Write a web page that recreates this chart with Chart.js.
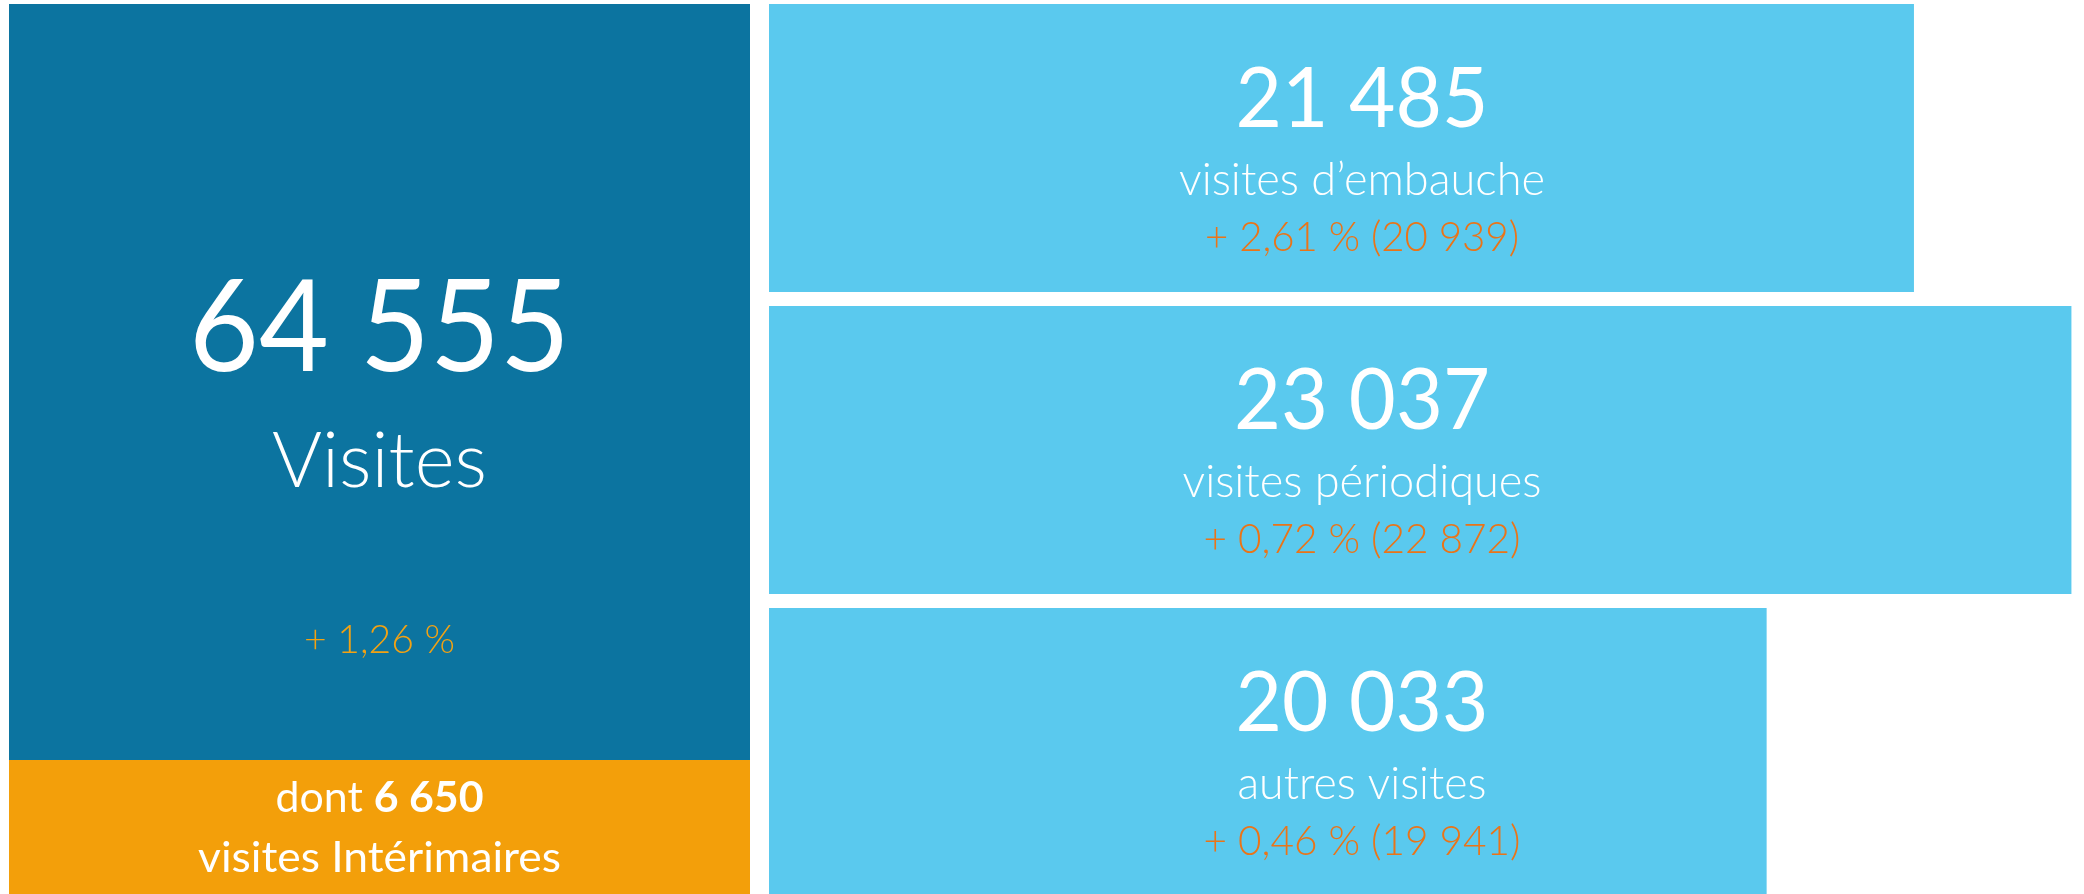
<!DOCTYPE html>
<html>
<head>
<meta charset="utf-8">
<script src="https://cdn.jsdelivr.net/npm/chart.js@4.4.1/dist/chart.umd.min.js"></script>
<style>
  html, body { margin: 0; padding: 0; background: #ffffff; width: 2084px; height: 894px; overflow: hidden; }
  #wrap { position: absolute; left: 0; top: -3px; width: 2084px; height: 906px; }
</style>
</head>
<body>
<div id="wrap"><canvas id="c" width="2084" height="906"></canvas></div>
<script>
// ---- data ----
const categories = ["visites d’embauche", "visites périodiques", "autres visites"];
const visits = [21485, 23037, 20033];
const previousVisits = [20939, 22872, 19941];
const changePct = [2.61, 0.72, 0.46];
const totalLabel = "Visites";
const totalVisits = 64555;
const totalChangePct = 1.26;
const interimVisits = 6650;
const interimLabel = "visites Intérimaires";

// ---- style ----
const DARK = "#0C74A0";
const LIGHT = "#5AC9EE";
const ORANGE_TILE = "#F39F0A";
const ORANGE_TEXT = "#EA7418";
const YELLOW_TEXT = "#F2A213";
const FONT = "Lato, 'Open Sans', sans-serif";
const OFFSET_Y = 3; // canvas is shifted up by 3px

function fmtInt(n) { return String(n).replace(/\B(?=(\d{3})+(?!\d))/g, " "); }
function fmtPct(p) { return "+ " + p.toFixed(2).replace(".", ",") + " %"; }

// parts: [{text, weight}] ; size0: size from glyph height ; target: width in px
function drawFit(ctx, parts, cx, baseline, size0, weight, target, color) {
  if (!Array.isArray(parts)) parts = [{ text: parts, weight: weight }];
  const measure = (s) => {
    let w = 0;
    parts.forEach(p => { ctx.font = p.weight + " " + s + "px " + FONT; w += ctx.measureText(p.text).width; });
    return w;
  };
  ctx.save();
  const w0 = measure(size0);
  const r = target / w0;
  const k = Math.sqrt(r);
  const size = size0 * k;
  const w1 = measure(size);
  const sx = target / w1;
  ctx.translate(cx - target / 2, baseline);
  ctx.scale(sx, 1);
  ctx.textAlign = "left";
  ctx.textBaseline = "alphabetic";
  ctx.fillStyle = color;
  let x = 0;
  parts.forEach(p => {
    ctx.font = p.weight + " " + size + "px " + FONT;
    ctx.fillText(p.text, x, 0);
    x += ctx.measureText(p.text).width;
  });
  ctx.restore();
}

const numberWidths = [253, 256, 253];
const labelWidths = [366, 359, 249];
const pctWidths = [314, 317, 317];

const tilePlugin = {
  id: "tiles",
  beforeDatasetsDraw(chart) {
    const ctx = chart.ctx;
    const x0 = 9, w = 741;
    ctx.save();
    ctx.fillStyle = DARK;
    ctx.fillRect(x0, 4 + OFFSET_Y, w, 756);
    ctx.fillStyle = ORANGE_TILE;
    ctx.fillRect(x0, 760 + OFFSET_Y, w, 140);
    ctx.restore();
    const cx = x0 + w / 2;
    drawFit(ctx, fmtInt(totalVisits), cx, 371 + OFFSET_Y, 134, 400, 381, "#ffffff");
    drawFit(ctx, totalLabel, cx, 487 + OFFSET_Y, 76, 300, 215, "#ffffff");
    drawFit(ctx, fmtPct(totalChangePct), cx, 653 + OFFSET_Y, 40.5, 300, 151, YELLOW_TEXT);
    drawFit(ctx, [{ text: "dont ", weight: 400 }, { text: fmtInt(interimVisits), weight: 700 }],
      cx, 812 + OFFSET_Y, 41, 400, 208, "#ffffff");
    drawFit(ctx, interimLabel, cx, 872 + OFFSET_Y, 41, 400, 363, "#ffffff");
  },
  afterDatasetsDraw(chart) {
    const ctx = chart.ctx;
    const meta = chart.getDatasetMeta(0);
    const cx = chart.chartArea.left + 593;
    meta.data.forEach((bar, i) => {
      const y = bar.y;
      drawFit(ctx, fmtInt(visits[i]), cx, y - 21, 88, 400, numberWidths[i], "#ffffff");
      drawFit(ctx, categories[i], cx, y + 47, 45, 300, labelWidths[i], "#ffffff");
      drawFit(ctx, fmtPct(changePct[i]) + " (" + fmtInt(previousVisits[i]) + ")", cx, y + 103, 41, 300, pctWidths[i], ORANGE_TEXT);
    });
  }
};

new Chart(document.getElementById("c"), {
  type: "bar",
  data: {
    labels: categories,
    datasets: [{
      data: visits,
      backgroundColor: LIGHT,
      borderWidth: 0,
      barPercentage: 288 / 302,
      categoryPercentage: 1
    }]
  },
  options: {
    indexAxis: "y",
    responsive: false,
    animation: false,
    layout: { padding: { left: 769, right: 0, top: 0, bottom: 0 } },
    plugins: { legend: { display: false }, tooltip: { enabled: false } },
    scales: {
      x: { display: false, min: 10200, max: 23161 },
      y: { display: false }
    }
  },
  plugins: [tilePlugin]
});
</script>
</body>
</html>
